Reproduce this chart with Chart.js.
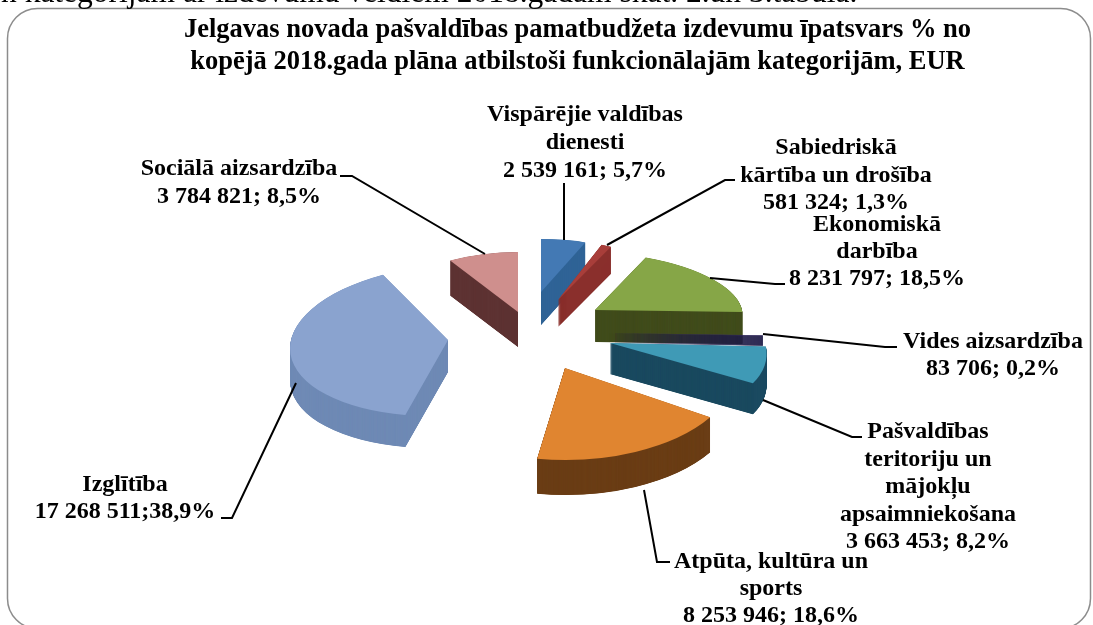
<!DOCTYPE html>
<html><head><meta charset="utf-8">
<style>html,body{margin:0;padding:0;background:#fff}#w{position:relative;width:1093px;height:625px;overflow:hidden}canvas{display:block}</style>
<script src="https://cdn.jsdelivr.net/npm/chart.js@4"></script>
</head><body><div id="w"><canvas id="c" width="1093" height="625"></canvas></div>
<script>
// ---- data ----
const categories = ["Vispārējie valdības dienesti","Sabiedriskā kārtība un drošība","Ekonomiskā darbība","Vides aizsardzība","Pašvaldības teritoriju un mājokļu apsaimniekošana","Atpūta, kultūra un sports","Izglītība","Sociālā aizsardzība"];
const values = [2539161,581324,8231797,83706,3663453,8253946,17268511,3784821];
const titleLines = ["Jelgavas novada pašvaldības pamatbudžeta izdevumu īpatsvars % no","kopējā 2018.gada plāna atbilstoši funkcionālajām kategorijām, EUR"];
const headerText = "n kategorijām ar izdevumu veidiem 2018.gadam skat. 2.un 3.tabulā.";
const labelLines = [
 ["Vispārējie valdības","dienesti","2 539 161; 5,7%"],
 ["Sabiedriskā","kārtība un drošība","581 324; 1,3%"],
 ["Ekonomiskā","darbība","8 231 797; 18,5%"],
 ["Vides aizsardzība","83 706; 0,2%"],
 ["Pašvaldības","teritoriju un","mājokļu","apsaimniekošana","3 663 453; 8,2%"],
 ["Atpūta, kultūra un","sports","8 253 946; 18,6%"],
 ["Izglītība","17 268 511;38,9%"],
 ["Sociālā aizsardzība","3 784 821; 8,5%"]
];
// ---- styles ----
const topColors  = ["#4379b4","#a83e3a","#86a647","#3a2f66","#3f9ab6","#e08530","#8aa3cf","#cf8f8d"];
const sideColors = ["#2f6396","#8a2f2c","#414c1c","#201c48","#1b4a60","#6b3e16","#6f8ab5","#5e3333"];
// ---- 3D projection of the exploded pie (layout only) ----
const pieCenter = {x:530,y:330};
const explodeX = [11,28,65,78,80,35,-82,-12];
const explodeY = [-38,-30,-20,3,13,38,10,-18];
const radiusX  = [126,124,147,155,155,172,157,133];
const radiusY  = [53,59,58,60,75,92,76,60];
const skewX    = [0,0,0.23,0,0.3,0,-0.23,0];
const depth    = [33,27,32,10,31,35,32,35];
const drawOrder= [0,1,7,6,2,3,4,5];
// label layout: centre x, first baseline, line step
const labelPos = [[585,121,28],[836,154,27.5],[877,231,27],[993,348,27],[928,438,27.5],[771,568,27],[125,491,27],[239,175,28]];
const leaders = [
 [[564,183],[564,240]],
 [[735,180],[725,180],[607,245]],
 [[785,284],[775,284],[710,278]],
 [[897,347],[885,347],[763,334]],
 [[862,437],[852,437],[763,400]],
 [[670,562],[657,562],[644,490]],
 [[221,518],[232,518],[296,383]],
 [[340,176],[352,176],[485,254]]
];
const FONT = '"Liberation Serif","Times New Roman",serif';

const pie3d = {
 id:'pie3d',
 afterLayout(chart){ const t=chart.titleBlock; t.left+=31; t.right+=31; },
 beforeDraw(chart){
  const ctx=chart.ctx; ctx.save();
  ctx.fillStyle='#fff'; ctx.fillRect(0,0,chart.width,chart.height);
  ctx.strokeStyle='#8c8c8c'; ctx.lineWidth=1.5;
  ctx.beginPath(); ctx.roundRect(7.5,8.5,1083,620,30); ctx.stroke();
  ctx.fillStyle='#000'; ctx.font='31.5px '+FONT; ctx.textAlign='left'; ctx.textBaseline='alphabetic';
  ctx.fillText(headerText,1,2);
  ctx.restore();
 },
 beforeDatasetsDraw(chart){
  const ctx=chart.ctx, arcs=chart.getDatasetMeta(0).data;
  const paint=(i,dy,color)=>{
    const a=arcs[i], o=a.options, R=a.outerRadius;
    ctx.save();
    ctx.translate(pieCenter.x+explodeX[i],pieCenter.y+explodeY[i]+dy);
    ctx.transform(1,0,skewX[i],1,0,0);
    ctx.scale(radiusX[i]/R,radiusY[i]/R);
    ctx.translate(-a.x,-a.y);
    a.options=Object.assign(Object.create(o),{backgroundColor:color});
    a.draw(ctx);
    a.options=o;
    ctx.restore();
  };
  drawOrder.forEach(i=>{
    for(let d=depth[i];d>0;d-=0.25) paint(i,d,sideColors[i]);
    paint(i,0,topColors[i]);
  });
  // leaders + labels
  ctx.save();
  ctx.strokeStyle='#000'; ctx.lineWidth=2;
  leaders.forEach(p=>{ctx.beginPath();p.forEach((q,k)=>k?ctx.lineTo(q[0],q[1]):ctx.moveTo(q[0],q[1]));ctx.stroke();});
  ctx.fillStyle='#000'; ctx.font='bold 24px '+FONT; ctx.textAlign='center'; ctx.textBaseline='alphabetic';
  labelLines.forEach((ls,i)=>{const [x,y,s]=labelPos[i];ls.forEach((t,k)=>ctx.fillText(t,x,y+k*s));});
  ctx.restore();
  return false;
 }
};
new Chart(document.getElementById('c'),{
 type:'pie',
 data:{labels:categories,datasets:[{data:values,backgroundColor:topColors,borderWidth:0,offset:0}]},
 options:{responsive:false,animation:false,rotation:0,
  layout:{padding:0},
  plugins:{legend:{display:false},tooltip:{enabled:false},
   title:{display:true,text:titleLines,color:'#000',font:{family:FONT,size:26.5,weight:'bold',lineHeight:1.208},padding:{top:14,bottom:10}}}},
 plugins:[pie3d]
});
</script></body></html>
